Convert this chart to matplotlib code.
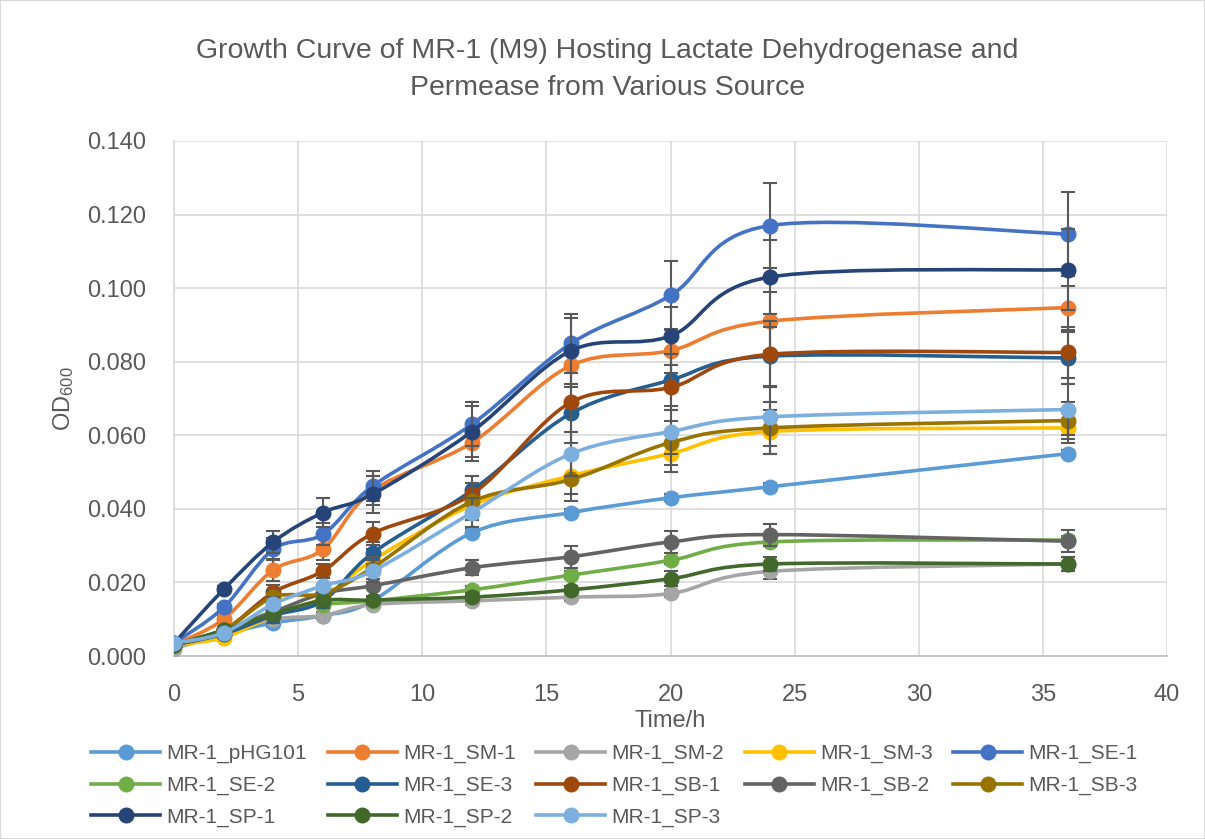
"""plot.py: growth curves of MR-1 strains in M9 with smoothed Excel-style lines."""

import matplotlib
matplotlib.use('Agg')
import matplotlib.pyplot as plt
import numpy as np
from matplotlib.lines import Line2D
from matplotlib.path import Path
from matplotlib.patches import PathPatch, Rectangle

plt.rcParams['font.family'] = ['Liberation Sans', 'DejaVu Sans']
plt.rcParams['mathtext.default'] = 'regular'

time_h = [0, 2, 4, 6, 8, 12, 16, 20, 24, 36]

labels = ['MR-1_pHG101', 'MR-1_SM-1', 'MR-1_SM-2', 'MR-1_SM-3', 'MR-1_SE-1',
          'MR-1_SE-2', 'MR-1_SE-3', 'MR-1_SB-1', 'MR-1_SB-2', 'MR-1_SB-3',
          'MR-1_SP-1', 'MR-1_SP-2', 'MR-1_SP-3']

colors = ['#5B9BD5', '#ED7D31', '#A5A5A5', '#FFC000', '#4472C4',
          '#70AD47', '#255E91', '#9E480E', '#636363', '#997300',
          '#264478', '#43682B', '#7CAFDD']

od_phg101 = [0.0030, 0.0060, 0.0090, 0.0110, 0.0150, 0.0335, 0.0390, 0.0430, 0.0460, 0.0550]
od_sm1 = [0.0030, 0.0100, 0.0234, 0.0290, 0.0450, 0.0580, 0.0790, 0.0830, 0.0910, 0.0947]
od_sm2 = [0.0020, 0.0060, 0.0100, 0.0110, 0.0140, 0.0150, 0.0160, 0.0170, 0.0230, 0.0250]
od_sm3 = [0.0030, 0.0050, 0.0110, 0.0160, 0.0260, 0.0410, 0.0490, 0.0550, 0.0610, 0.0620]
od_se1 = [0.0035, 0.0132, 0.0290, 0.0331, 0.0462, 0.0630, 0.0850, 0.0980, 0.1170, 0.1147]
od_se2 = [0.0030, 0.0070, 0.0120, 0.0140, 0.0150, 0.0180, 0.0220, 0.0260, 0.0310, 0.0315]
od_se3 = [0.0030, 0.0060, 0.0110, 0.0150, 0.0280, 0.0450, 0.0660, 0.0750, 0.0815, 0.0810]
od_sb1 = [0.0030, 0.0070, 0.0173, 0.0231, 0.0333, 0.0440, 0.0690, 0.0730, 0.0820, 0.0825]
od_sb2 = [0.0030, 0.0070, 0.0120, 0.0170, 0.0191, 0.0240, 0.0270, 0.0310, 0.0330, 0.0312]
od_sb3 = [0.0030, 0.0070, 0.0160, 0.0170, 0.0240, 0.0420, 0.0480, 0.0580, 0.0620, 0.0640]
od_sp1 = [0.0035, 0.0181, 0.0310, 0.0390, 0.0440, 0.0610, 0.0830, 0.0870, 0.1030, 0.1050]
od_sp2 = [0.0030, 0.0070, 0.0114, 0.0151, 0.0152, 0.0160, 0.0180, 0.0210, 0.0250, 0.0250]
od_sp3 = [0.0035, 0.0063, 0.0141, 0.0191, 0.0231, 0.0390, 0.0550, 0.0610, 0.0650, 0.0670]

err_phg101 = [0, 0.001, 0.001, 0.001, 0.001, 0.001, 0.001, 0.001, 0.001, 0.001]
err_sm1 = [0, 0.001, 0.003, 0.003, 0.004, 0.005, 0.006, 0.006, 0.008, 0.006]
err_sm2 = [0, 0, 0.001, 0.001, 0.001, 0.001, 0.001, 0.001, 0.002, 0.002]
err_sm3 = [0, 0.001, 0.002, 0.002, 0.003, 0.004, 0.005, 0.005, 0.006, 0.004]
err_se1 = [0, 0.001, 0.003, 0.003, 0.004, 0.006, 0.008, 0.0095, 0.0115, 0.0115]
err_se2 = [0, 0, 0.001, 0.001, 0.001, 0.001, 0.001, 0.001, 0.001, 0.001]
err_se3 = [0, 0.001, 0.002, 0.002, 0.003, 0.004, 0.008, 0.007, 0.008, 0.007]
err_sb1 = [0, 0.001, 0.002, 0.002, 0.003, 0.005, 0.008, 0.006, 0.009, 0.007]
err_sb2 = [0, 0.001, 0.001, 0.001, 0.001, 0.002, 0.003, 0.003, 0.003, 0.003]
err_sb3 = [0, 0.001, 0.002, 0.002, 0.003, 0.005, 0.006, 0.006, 0.007, 0.005]
err_sp1 = [0, 0.001, 0.003, 0.004, 0.005, 0.007, 0.009, 0.008, 0.010, 0.011]
err_sp2 = [0, 0, 0.001, 0.001, 0.001, 0.001, 0.001, 0.002, 0.002, 0.002]
err_sp3 = [0, 0.001, 0.002, 0.002, 0.003, 0.004, 0.006, 0.006, 0.008, 0.007]

series = [od_phg101, od_sm1, od_sm2, od_sm3, od_se1, od_se2, od_se3,
          od_sb1, od_sb2, od_sb3, od_sp1, od_sp2, od_sp3]
errors = [err_phg101, err_sm1, err_sm2, err_sm3, err_se1, err_se2, err_se3,
          err_sb1, err_sb2, err_sb3, err_sp1, err_sp2, err_sp3]


def smooth_path(x, y):
    """Bezier path through the points, like Excel's smoothed line."""
    pts = np.column_stack([x, y]).astype(float)
    n = len(pts)
    verts = [pts[0]]
    codes = [Path.MOVETO]
    for i in range(n - 1):
        p0 = pts[max(i - 1, 0)]
        p1 = pts[i]
        p2 = pts[i + 1]
        p3 = pts[min(i + 2, n - 1)]
        c1 = p1 + (p2 - p0) / 6.0
        c2 = p2 - (p3 - p1) / 6.0
        verts += [c1, c2, p2]
        codes += [Path.CURVE4] * 3
    return Path(verts, codes)


fig = plt.figure(figsize=(12.05, 8.39), dpi=100)
ax = fig.add_axes([0.1444, 0.2181, 0.8241, 0.6139])
fig.patches.append(Rectangle((0, 0), 1, 1, transform=fig.transFigure,
                             fill=False, edgecolor='#D9D9D9', lw=1.5))

text_color = '#595959'
handles = []
for k, (vals, err) in enumerate(zip(series, errors)):
    z = 3 + k
    ax.add_patch(PathPatch(smooth_path(time_h, vals), fill=False,
                           edgecolor=colors[k], lw=2.6, zorder=z,
                           capstyle='round'))
    ax.errorbar(time_h, vals, yerr=err, fmt='none', ecolor='#595959',
                elinewidth=1.5, capsize=5, capthick=1.5, zorder=z)
    ax.plot(time_h, vals, linestyle='none', marker='o', ms=10.5,
            color=colors[k], zorder=z)
    handles.append(Line2D([], [], color=colors[k], lw=2.6, marker='o', ms=10.5))

ax.set_xlim(0, 40)
ax.set_ylim(0, 0.14)
ax.set_xticks(range(0, 41, 5))
ax.set_yticks(np.arange(0, 0.1401, 0.02))
ax.yaxis.set_major_formatter(matplotlib.ticker.FormatStrFormatter('%.3f'))
ax.grid(True, color='#D9D9D9', lw=1.2)
ax.set_axisbelow(True)
for s in ['top', 'right']:
    ax.spines[s].set_visible(False)
ax.spines['left'].set_color('#D9D9D9')
ax.spines['bottom'].set_color('#BFBFBF')
ax.spines['left'].set_linewidth(1.2)
ax.spines['bottom'].set_linewidth(1.2)
ax.tick_params(length=0, labelsize=17, labelcolor=text_color)
ax.tick_params(axis='y', pad=20)
ax.tick_params(axis='x', pad=20)

ax.set_xlabel('Time/h', fontsize=17, color=text_color, labelpad=3)
ax.set_ylabel('OD$_{600}$', fontsize=17, color=text_color, labelpad=8)

fig.text(0.504, 0.917, 'Growth Curve of MR-1 (M9) Hosting Lactate Dehydrogenase and\n'
         'Permease from Various Source', ha='center', va='center',
         fontsize=20.5, color=text_color, linespacing=1.55)

# legend is filled column by column, so reorder to read row by row
order = [0, 5, 10, 1, 6, 11, 2, 7, 12, 3, 8, 4, 9]
leg = fig.legend([handles[i] for i in order], [labels[i] for i in order],
                 loc='lower center', bbox_to_anchor=(0.51, -0.008), ncol=5,
                 frameon=False, fontsize=15, handlelength=3.3,
                 columnspacing=1.0, labelspacing=0.6, handletextpad=0.3)
for t in leg.get_texts():
    t.set_color(text_color)

fig.savefig('out.png', dpi=100)
